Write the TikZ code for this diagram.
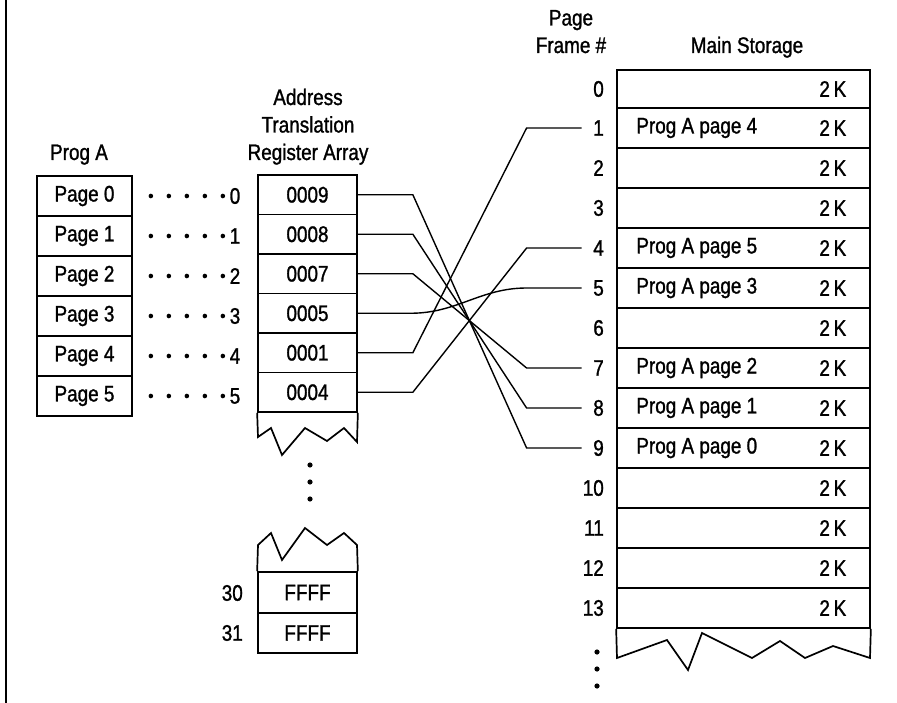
\documentclass[tikz,border=0pt]{standalone}
\usepackage{fontspec}
\setmainfont{Liberation Sans}[FakeStretch=0.84,FakeBold=1.2]
\usetikzlibrary{calc}
\begin{document}
\begin{tikzpicture}[x=1pt,y=-1pt,
  every node/.style={font=\fontsize{22.5}{27.5}\selectfont, inner sep=0pt},
  box/.style={draw, line width=1.7pt},
  wire/.style={line width=1.4pt},
  leader/.style={line width=4.6pt, line cap=round, dash pattern=on 0pt off 18pt, shorten <=18pt, shorten >=5pt},
  framenum/.style={anchor=east, text width=22pt, align=right},
  bigdot/.style={fill=black}]
\useasboundingbox (0,0) rectangle (897,703);
\fill[white] (0,0) rectangle (897,703);
\draw[line width=2.2pt] (6,0) -- (6,703);

% Prog A
\node[anchor=base] (proga) at (79,160) {Prog A};
\foreach \k in {0,...,5} {
  \node[box, minimum width=95pt, minimum height=40pt] (p\k) at (84.5,196+40*\k) {Page \k};
  \node (d\k) at (235,196+40*\k) {\k};
  \draw[leader] (p\k.east) -- (d\k.west);
}

% Address Translation Register Array
\node[anchor=base, align=center] (atrh) at (308,160) {Address\\Translation\\Register Array};
\foreach \v [count=\i from 0] in {0009,0008,0007,0005,0001,0004} {
  \node[box, minimum width=99pt, minimum height=39.5pt] (r\i) at (307.5,194.75+39.5*\i) {\v};
}
\draw[box] (r5.south west) -- (258,437) -- (271,428) -- (282,455) -- (305,428) -- (327,441) -- (344,428) -- (357,442) -- (r5.south east);
\fill[bigdot] (310,465) circle (2.6pt);
\fill[bigdot] (310,482) circle (2.6pt);
\fill[bigdot] (310,499) circle (2.6pt);
\node[box, minimum width=99pt, minimum height=41pt] (r30) at (307.5,592.5) {FFFF};
\node[box, minimum width=99pt, minimum height=40pt] (r31) at (307.5,633) {FFFF};
\draw[box] (r30.north west) -- (258,545) -- (271,533) -- (282,560) -- (305,528) -- (327,545) -- (344,533) -- (357,545) -- (r30.north east);
\node[anchor=east] (n30) at (243,593) {30};
\node[anchor=east] (n31) at (243,633) {31};

% Main storage
\node[anchor=base, align=center] (pfh) at (571,53) {Page\\Frame \#};
\node[anchor=base] (msh) at (747,53) {Main Storage};
\node[box, minimum width=253pt, minimum height=38pt] (m0) at (743.5,89) {};
\node[framenum] (f0) at (604,89) {0};
\node (k0) at ($(m0.east)+(-38,0)$) {2\,K};
\foreach \k in {1,...,13} {
  \node[box, minimum width=253pt, minimum height=40pt] (m\k) at (743.5,88+40*\k) {};
  \node[framenum] (f\k) at (604,88+40*\k) {\k};
  \node (k\k) at ($(m\k.east)+(-38,0)$) {2\,K};
}
\foreach \f/\p in {1/4,4/5,5/3,7/2,8/1,9/0} {
  \node[anchor=west] (a\f) at ($(m\f.west)+(20,0)$) {Prog A page \p};
}
\draw[box] (m13.south west) -- (617,658) -- (667,640) -- (688,670) -- (702,633) -- (752,658) -- (780,641) -- (805,658) -- (833,646) -- (870,658) -- (m13.south east);
\fill[bigdot] (597,652) circle (2.6pt);
\fill[bigdot] (597,669) circle (2.6pt);
\fill[bigdot] (597,686) circle (2.6pt);

% connectors
\foreach \a/\b in {0/9,1/8,2/7,4/1,5/4} {
  \draw[wire] (r\a.east) -- ++(55,0) -- ($(f\b.west)+(-55,0)$) -- (f\b.west);
}
\draw[wire] (r3.east) -- ++(53,0) to[out=0,in=180] ($(f5.west)+(-55,0)$) -- (f5.west);
\end{tikzpicture}
\end{document}
